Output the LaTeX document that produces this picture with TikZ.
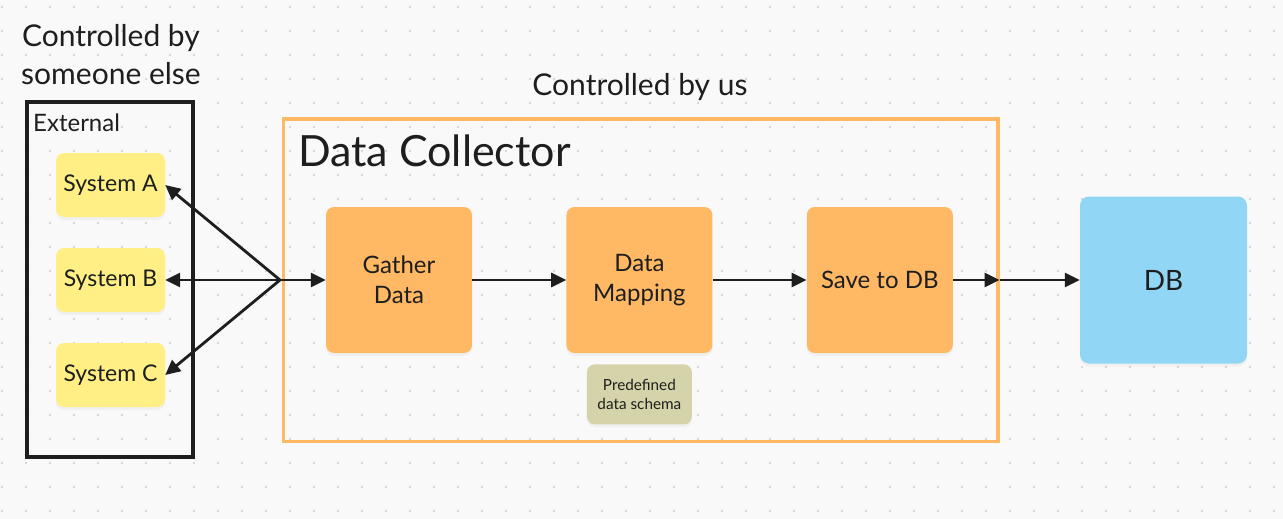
\documentclass[tikz,border=0pt]{standalone}
\usepackage{fontspec}
\setmainfont{Lato}
\usetikzlibrary{positioning,calc,arrows.meta,shadows}

\definecolor{boardbg}{HTML}{F9F9F9}
\definecolor{boarddot}{HTML}{CCCCCC}
\definecolor{inkcol}{HTML}{1E1E1E}
\definecolor{stickyyellow}{HTML}{FFEF85}
\definecolor{procorange}{HTML}{FFB965}
\definecolor{schemaolive}{HTML}{D4D3A9}
\definecolor{dbblue}{HTML}{92D6F5}

\begin{document}
\begin{tikzpicture}[x=1pt,y=-1pt,
    softshadow/.style={drop shadow={shadow xshift=0pt,shadow yshift=-3pt,opacity=0.07}},
    sticky/.style={fill=stickyyellow, rounded corners=8pt, softshadow, minimum width=109pt, minimum height=64pt, inner sep=0pt, text=inkcol, font=\fontsize{23}{27}\selectfont},
    procbox/.style={fill=procorange, rounded corners=8pt, softshadow, minimum width=146pt, minimum height=146pt, inner sep=0pt, align=center, text=inkcol, font=\fontsize{24}{30}\selectfont},
    flow/.style={draw=inkcol, line width=2.8pt, -{Triangle[length=15pt,width=14pt]}},
    caption/.style={text=inkcol, font=\fontsize{30}{38}\selectfont, align=center, inner sep=0pt}
]
    \useasboundingbox (0,0) rectangle (1283,519);
    \fill[boardbg] (0,0) rectangle (1283,519);
    % dotted board
    \foreach \i in {0,...,53}
        \foreach \j in {0,...,21}
            \fill[boarddot] (2+24*\i,7+24*\j) circle (1.2pt);

    % external side
    \node[caption] (someone) at (111,55) {Controlled by\\someone else};
    \node[draw=inkcol, line width=4pt, minimum width=166pt, minimum height=355pt, inner sep=0pt] (external) at (110.4,279.8) {};
    \node[anchor=west, inner sep=0pt, text=inkcol, font=\fontsize{24}{28}\selectfont] (extlabel) at (33,123) {External};

    \node[sticky] (sysA) at (110.5,185) {System A};
    \node[sticky] (sysB) at (110.5,280) {System B};
    \node[sticky] (sysC) at (110.5,375) {System C};

    % collector side
    \node[caption] (us) at (640,87) {Controlled by us};
    \node[draw=procorange, line width=3.3pt, minimum width=714.7pt, minimum height=322.3pt, inner sep=0pt] (collector) at (640.6,280.2) {};
    \node[anchor=west, inner sep=0pt, text=inkcol, font=\fontsize{43}{48}\selectfont] (title) at (298,151) {Data Collector};

    \node[procbox] (gather) at (399,280) {Gather\\Data};
    \node[procbox, right=94pt of gather] (mapping) {Data\\Mapping};
    \node[procbox, right=94pt of mapping] (save) {Save to DB};

    \node[fill=schemaolive, rounded corners=8pt, softshadow, minimum width=105pt, minimum height=60pt, inner sep=0pt, align=center, text=inkcol, font=\fontsize{15.3}{19}\selectfont, below=11pt of mapping] (schema) {Predefined\\data schema};

    \node[fill=dbblue, rounded corners=9pt, softshadow, minimum width=167pt, minimum height=167pt, inner sep=0pt, text=inkcol, font=\fontsize{28}{32}\selectfont] (db) at (1163.5,280) {DB};

    \coordinate (hub) at (280,280);
    \coordinate (exit) at (collector.east |- save.east);

    \draw[flow] (hub) -- (sysA.east);
    \draw[flow] (hub) -- (sysB.east);
    \draw[flow] (hub) -- (sysC.east);
    \draw[flow] (hub) -- (gather);
    \draw[flow] (gather) -- (mapping);
    \draw[flow] (mapping) -- (save);
    \draw[flow] (save) -- (exit);
    \draw[flow] (exit) -- (db);
\end{tikzpicture}
\end{document}
